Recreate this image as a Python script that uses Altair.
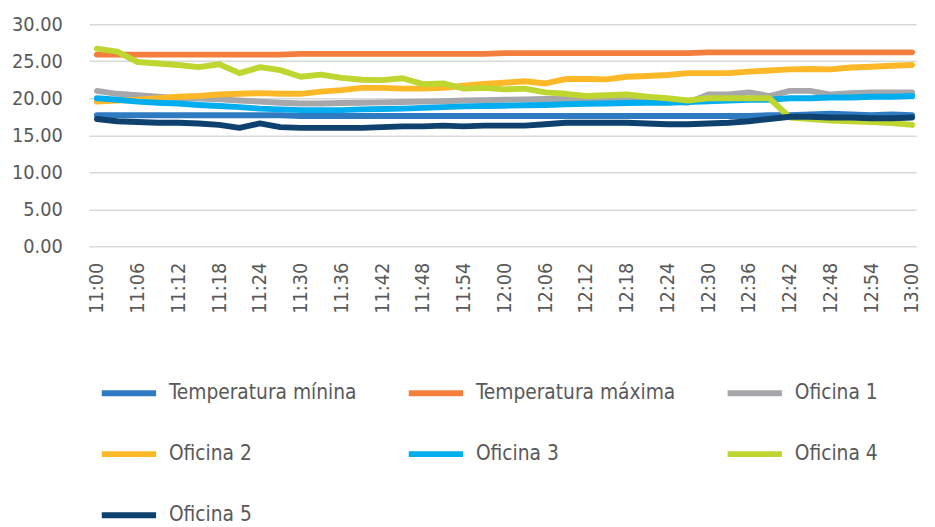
import altair as alt
import pandas as pd

times = ["11:00", "11:03", "11:06", "11:09", "11:12", "11:15", "11:18", "11:21", "11:24", "11:27",
         "11:30", "11:33", "11:36", "11:39", "11:42", "11:45", "11:48", "11:51", "11:54", "11:57",
         "12:00", "12:03", "12:06", "12:09", "12:12", "12:15", "12:18", "12:21", "12:24", "12:27",
         "12:30", "12:33", "12:36", "12:39", "12:42", "12:45", "12:48", "12:51", "12:54", "12:57",
         "13:00"]

tick_labels = ["11:00", "11:06", "11:12", "11:18", "11:24", "11:30", "11:36", "11:42", "11:48", "11:54",
               "12:00", "12:06", "12:12", "12:18", "12:24", "12:30", "12:36", "12:42", "12:48", "12:54",
               "13:00"]

y_ticks = [0, 5, 10, 15, 20, 25, 30]

t_min = [17.7, 17.7, 17.7, 17.7, 17.7, 17.7, 17.7, 17.7, 17.7, 17.7,
         17.6, 17.6, 17.6, 17.6, 17.6, 17.6, 17.6, 17.6, 17.6, 17.6,
         17.6, 17.6, 17.6, 17.6, 17.6, 17.6, 17.6, 17.6, 17.6, 17.6,
         17.6, 17.6, 17.6, 17.7, 17.7, 17.8, 17.9, 17.8, 17.7, 17.8,
         17.7]

t_max = [25.9, 25.9, 25.9, 25.9, 25.9, 25.9, 25.9, 25.9, 25.9, 25.9,
         26.0, 26.0, 26.0, 26.0, 26.0, 26.0, 26.0, 26.0, 26.0, 26.0,
         26.1, 26.1, 26.1, 26.1, 26.1, 26.1, 26.1, 26.1, 26.1, 26.1,
         26.2, 26.2, 26.2, 26.2, 26.2, 26.2, 26.2, 26.2, 26.2, 26.2,
         26.2]

of1 = [21.0, 20.6, 20.4, 20.2, 20.0, 19.95, 19.85, 19.7, 19.55, 19.4,
       19.3, 19.3, 19.35, 19.4, 19.45, 19.5, 19.55, 19.6, 19.7, 19.75,
       19.8, 19.85, 19.9, 19.9, 19.95, 20.0, 20.0, 19.9, 19.7, 19.4,
       20.5, 20.5, 20.8, 20.3, 21.0, 21.0, 20.5, 20.7, 20.8, 20.8,
       20.8]

of2 = [19.55, 19.7, 19.8, 20.0, 20.2, 20.3, 20.5, 20.6, 20.7, 20.6,
       20.6, 20.9, 21.1, 21.4, 21.4, 21.3, 21.3, 21.4, 21.7, 21.95,
       22.1, 22.3, 22.0, 22.6, 22.6, 22.55, 22.9, 23.0, 23.15, 23.4,
       23.4, 23.4, 23.6, 23.75, 23.9, 23.95, 23.9, 24.15, 24.25, 24.4,
       24.5]

of3 = [20.0, 19.8, 19.55, 19.4, 19.3, 19.1, 18.95, 18.8, 18.6, 18.5,
       18.4, 18.4, 18.4, 18.5, 18.55, 18.6, 18.7, 18.8, 18.9, 18.95,
       19.0, 19.05, 19.1, 19.2, 19.25, 19.3, 19.35, 19.4, 19.4, 19.5,
       19.6, 19.7, 19.8, 19.8, 20.0, 20.0, 20.1, 20.1, 20.2, 20.2,
       20.3]

of4 = [26.7, 26.3, 24.9, 24.7, 24.5, 24.2, 24.6, 23.4, 24.2, 23.8,
       22.9, 23.2, 22.75, 22.5, 22.45, 22.7, 21.9, 22.0, 21.3, 21.4,
       21.2, 21.3, 20.8, 20.6, 20.3, 20.4, 20.5, 20.2, 20.0, 19.7,
       20.0, 20.0, 20.0, 20.0, 17.4, 17.2, 17.0, 16.9, 16.8, 16.65,
       16.4]

of5 = [17.2, 16.9, 16.8, 16.7, 16.7, 16.6, 16.4, 16.0, 16.6, 16.1,
       16.0, 16.0, 16.0, 16.0, 16.1, 16.2, 16.2, 16.3, 16.2, 16.3,
       16.3, 16.3, 16.5, 16.7, 16.7, 16.7, 16.7, 16.6, 16.5, 16.5,
       16.6, 16.7, 16.9, 17.2, 17.5, 17.5, 17.4, 17.4, 17.3, 17.3,
       17.4]

names = ["Temperatura mínina", "Temperatura máxima", "Oficina 1", "Oficina 2",
         "\u00a0Oficina 3", "Oficina 4", "Oficina 5"]
colors = ["#2E7BC1", "#F47E3E", "#A5A7AA", "#FDB827", "#00ADEF", "#BED62F", "#0E416E"]
series_values = [t_min, t_max, of1, of2, of3, of4, of5]


def to_min(s):
    h, m = s.split(":")
    return (int(h) - 11) * 60 + int(m)


rows = []
for k, (name, vals) in enumerate(zip(names, series_values)):
    for t, v in zip(times, vals):
        rows.append({"time": t, "minute": to_min(t), "value": v, "series": name, "k": k})
df = pd.DataFrame(rows)

tick_minutes = [to_min(t) for t in tick_labels]

AXIS_FONT = "'DejaVu Sans Condensed', 'Liberation Sans', sans-serif"
LEG_FONT = "'DejaVu Sans Condensed', 'Liberation Sans', sans-serif"

label_expr = ("(11 + floor(datum.value / 60)) + ':' + "
              "((datum.value % 60) < 10 ? '0' : '') + (datum.value % 60)")

chart = alt.Chart(df).mark_line(strokeWidth=6, strokeCap="round", strokeJoin="round").encode(
    x=alt.X("minute:Q",
            scale=alt.Scale(domain=[-1.17, 120.6], nice=False, zero=False),
            axis=alt.Axis(values=tick_minutes, labelExpr=label_expr, labelAngle=-90,
                          title=None, domain=False, ticks=False, grid=False,
                          labelFont=AXIS_FONT, labelFontSize=20, labelColor="#595959",
                          labelPadding=16, labelFlush=False, labelOverlap=False)),
    y=alt.Y("value:Q", scale=alt.Scale(domain=[0, 30], nice=False),
            axis=alt.Axis(values=y_ticks, format=".2f", title=None, domain=False, ticks=False,
                          gridColor="#d9d9d9", gridWidth=1.5, labelFont=AXIS_FONT,
                          labelFontSize=20, labelColor="#595959", labelPadding=27)),
    color=alt.Color("series:N", sort=names,
                    scale=alt.Scale(domain=names, range=colors),
                    legend=alt.Legend(title=None, orient="none", direction="horizontal",
                                      legendX=10, legendY=343,
                                      columns=3, symbolType="stroke", symbolSize=3025,
                                      symbolStrokeWidth=6, labelFont=LEG_FONT,
                                      labelFontSize=21, labelColor="#595959",
                                      columnPadding=40, rowPadding=19, labelOffset=10,
                                      labelLimit=400)),
    order=alt.Order("minute:Q"),
).properties(width=838, height=225, padding={"left": 3, "top": 3, "right": 5, "bottom": 5}
).configure_view(stroke=None)

chart.save("out.html", embed_options={"renderer": "svg", "actions": False})
